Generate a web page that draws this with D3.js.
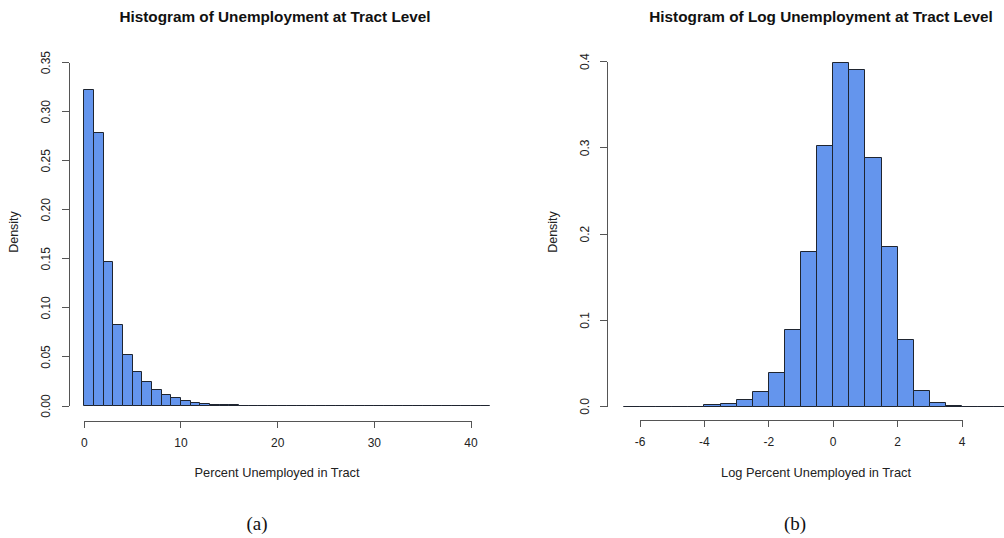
<!DOCTYPE html>
<html>
<head>
<meta charset="utf-8">
<script src="https://cdn.jsdelivr.net/npm/d3@7"></script>
<style>
  body { margin: 0; background: #fff; }
  svg { display: block; }
  .tick text { font-family: "Liberation Sans", Arial, sans-serif; font-size: 12px; fill: #222; }
  .axis path, .axis line { stroke: #555; shape-rendering: crispEdges; }
</style>
</head>
<body>
<svg id="chart" width="1004" height="538"></svg>
<script>
// Panel (a): percent unemployed, bins of width 1
const unempBreaks = [0,1,2,3,4,5,6,7,8,9,10,11,12,13,14,15,16,17,18,19,20,
  21,22,23,24,25,26,27,28,29,30,31,32,33,34,35,36,37,38,39,40,41,42];
const unempDensity = [0.322,0.278,0.147,0.083,0.052,0.035,0.024,0.016,0.011,0.008,
  0.005,0.0032,0.0022,0.0014,0.001,0.0007,0.0005,0.0004,0.0002,0.0003,0.0002,0.0001,
  0,0,0,0,0,0,0,0,0,0,0,0,0,0,0,0,0,0,0,0];
const unempXTicks = [0,10,20,30,40];
const unempYTicks = [0,0.05,0.10,0.15,0.20,0.25,0.30,0.35];

// Panel (b): log percent unemployed, bins of width 0.5
const logBreaks = [-6.5,-6,-5.5,-5,-4.5,-4,-3.5,-3,-2.5,-2,-1.5,-1,-0.5,0,
  0.5,1,1.5,2,2.5,3,3.5,4,4.5,5,5.5];
const logDensity = [0,0,0,0,0,0.0015,0.003,0.007,0.0166,0.0386,0.0889,0.179,0.302,
  0.399,0.390,0.288,0.185,0.0773,0.0182,0.0039,0.0008,0,0,0];
const logXTicks = [-6,-4,-2,0,2,4];
const logYTicks = [0,0.1,0.2,0.3,0.4];

const svg = d3.select("#chart");
const SANS = '"Liberation Sans", Arial, sans-serif';

function histogram(cfg) {
  const x = d3.scaleLinear().domain(cfg.xDomain).range(cfg.xRange);
  const y = d3.scaleLinear().domain(cfg.yDomain).range(cfg.yRange);
  const g = svg.append("g");

  // each bin is an outlined box; empty bins collapse to a line on the baseline
  const bins = cfg.density.map((d, i) => ({ x0: cfg.breaks[i], x1: cfg.breaks[i + 1], d }));
  g.selectAll("path.bar").data(bins).join("path")
    .attr("class", "bar")
    .attr("d", b => {
      const l = Math.round(x(b.x0)) + 0.5, r = Math.round(x(b.x1)) + 0.5;
      const base = Math.round(y(0)) + 0.5, top = Math.round(y(b.d)) + 0.5;
      return `M${l},${base}V${top}H${r}V${base}Z`;
    })
    .attr("fill", "#6495ED")
    .attr("stroke", "#1f2530")
    .attr("stroke-width", 1);

  const plain = d => String(d);

  // x axis
  g.append("g").attr("class", "axis")
    .attr("transform", `translate(0.5,${cfg.xAxisY + 0.5})`)
    .call(d3.axisBottom(x).tickValues(cfg.xTicks).tickSize(7).tickSizeOuter(0)
      .tickPadding(11).tickFormat(plain));

  // y axis with labels parallel to the axis
  const ya = g.append("g").attr("class", "axis")
    .attr("transform", `translate(${cfg.yAxisX + 0.5},0.5)`)
    .call(d3.axisLeft(y).tickValues(cfg.yTicks).tickSize(7).tickSizeOuter(0)
      .tickFormat(d3.format(cfg.yFormat)));
  ya.selectAll(".tick text")
    .attr("x", null).attr("dy", "0.35em")
    .attr("text-anchor", "middle")
    .attr("transform", `translate(${cfg.yLabelOffset},0) rotate(-90)`);

  g.append("text")
    .attr("x", cfg.titleX).attr("y", 22)
    .attr("text-anchor", "middle")
    .attr("font-family", SANS).attr("font-size", 15.3).attr("font-weight", "bold")
    .attr("fill", "#111")
    .text(cfg.title);

  g.append("text")
    .attr("x", cfg.xLabelX).attr("y", 477)
    .attr("text-anchor", "middle")
    .attr("font-family", SANS).attr("font-size", 12.8).attr("fill", "#222")
    .text(cfg.xLabel);

  g.append("text")
    .attr("transform", `translate(${cfg.densityX},232) rotate(-90)`)
    .attr("text-anchor", "middle").attr("dy", "0.35em")
    .attr("font-family", SANS).attr("font-size", 12.5).attr("fill", "#222")
    .text("Density");

  g.append("text")
    .attr("x", cfg.captionX).attr("y", 530)
    .attr("text-anchor", "middle")
    .attr("font-family", '"Liberation Serif", "DejaVu Serif", serif')
    .attr("font-size", 19).attr("fill", "#111")
    .text(cfg.caption);
}

histogram({
  breaks: unempBreaks, density: unempDensity,
  xDomain: [0, 40], xRange: [83.3, 470],
  yDomain: [0, 0.35], yRange: [405, 61.7],
  xTicks: unempXTicks, yTicks: unempYTicks, yFormat: ".2f",
  xAxisY: 420, yAxisX: 68, yLabelOffset: -23,
  title: "Histogram of Unemployment at Tract Level", titleX: 275,
  xLabel: "Percent Unemployed in Tract", xLabelX: 277,
  densityX: 14, caption: "(a)", captionX: 257
});

histogram({
  breaks: logBreaks, density: logDensity,
  xDomain: [-6, 4], xRange: [639, 961],
  yDomain: [0, 0.4], yRange: [405.5, 60.7],
  xTicks: logXTicks, yTicks: logYTicks, yFormat: ".1f",
  xAxisY: 419, yAxisX: 606.5, yLabelOffset: -22,
  title: "Histogram of Log Unemployment at Tract Level", titleX: 821,
  xLabel: "Log Percent Unemployed in Tract", xLabelX: 816,
  densityX: 553, caption: "(b)", captionX: 795
});
</script>
</body>
</html>
